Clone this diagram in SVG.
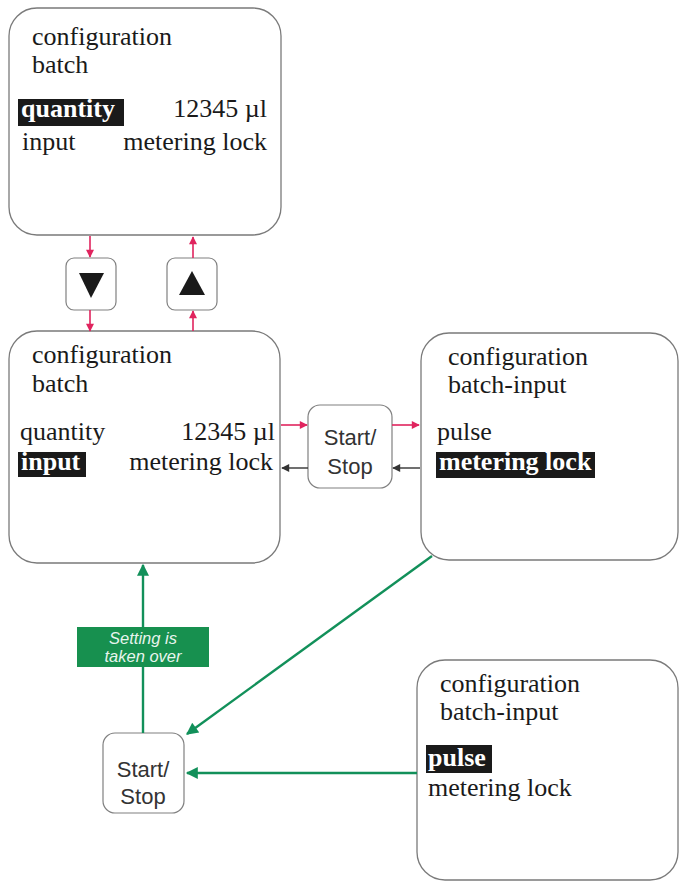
<svg xmlns="http://www.w3.org/2000/svg" width="679" height="884" viewBox="0 0 679 884">
<defs>
<style>
.box{fill:#fff;stroke:#7a7a7a;stroke-width:1.3}
.btn{fill:#fff;stroke:#808080;stroke-width:1.2}
.t{font-family:"Liberation Serif","Times New Roman",serif;font-size:26px;fill:#1a1a1a}
.hb{font-family:"Liberation Serif","Times New Roman",serif;font-size:26px;font-weight:bold;fill:#fff}
.hl{fill:#1a1a1a}
.s{font-family:"Liberation Sans",Arial,sans-serif;font-size:22px;fill:#333;text-anchor:middle}
.lab{font-family:"Liberation Sans",Arial,sans-serif;font-size:16.5px;font-style:italic;fill:#e8f5ee;text-anchor:middle}
.pk{stroke:#e0245e;stroke-width:1.6;fill:none}
.bk{stroke:#333;stroke-width:1.4;fill:none}
.gr{stroke:#12905a;stroke-width:2.4;fill:none}
</style>
<marker id="mp" viewBox="0 0 10 10" refX="9" refY="5" markerWidth="9" markerHeight="8" markerUnits="userSpaceOnUse" orient="auto"><path d="M0,0 L10,5 L0,10 z" fill="#e0245e"/></marker>
<marker id="mb" viewBox="0 0 10 10" refX="9" refY="5" markerWidth="9" markerHeight="8" markerUnits="userSpaceOnUse" orient="auto"><path d="M0,0 L10,5 L0,10 z" fill="#333"/></marker>
<marker id="mg" viewBox="0 0 10 10" refX="9" refY="5" markerWidth="15" markerHeight="12" markerUnits="userSpaceOnUse" orient="auto"><path d="M0,0 L10,5 L0,10 z" fill="#12905a"/></marker>
</defs>
<rect width="679" height="884" fill="#fff"/>

<g id="screen1">
<rect class="box" x="9" y="8" width="272" height="227" rx="28"/>
<text class="t" x="32" y="45">configuration</text>
<text class="t" x="32" y="73">batch</text>
<rect class="hl" x="18" y="99" width="106" height="27"/>
<text class="hb" x="21" y="117">quantity</text>
<text class="t" x="267" y="117" text-anchor="end">12345 µl</text>
<text class="t" x="22" y="150">input</text>
<text class="t" x="267" y="150" text-anchor="end">metering lock</text>
</g>

<g id="btn-down">
<rect class="btn" x="66" y="258" width="50" height="52" rx="8"/>
<path d="M79,273 L104,273 L91,298 z" fill="#1a1a1a"/>
</g>
<g id="btn-up">
<rect class="btn" x="167" y="258" width="50" height="52" rx="8"/>
<path d="M179,295 L205,295 L192,271 z" fill="#1a1a1a"/>
</g>

<g id="screen2">
<rect class="box" x="9" y="331" width="271" height="232" rx="28"/>
<text class="t" x="32" y="363">configuration</text>
<text class="t" x="32" y="392">batch</text>
<text class="t" x="20" y="440">quantity</text>
<text class="t" x="275" y="440" text-anchor="end">12345 µl</text>
<rect class="hl" x="18" y="452" width="68" height="25"/>
<text class="hb" x="21" y="470">input</text>
<text class="t" x="273" y="470" text-anchor="end">metering lock</text>
</g>

<g id="startstop1">
<rect class="btn" x="308" y="405" width="84" height="83" rx="12"/>
<text class="s" x="350" y="445">Start/</text>
<text class="s" x="350" y="474">Stop</text>
</g>

<g id="screen3">
<rect class="box" x="421" y="333" width="257" height="227" rx="28"/>
<text class="t" x="448" y="365">configuration</text>
<text class="t" x="448" y="393">batch-input</text>
<text class="t" x="437" y="440">pulse</text>
<rect class="hl" x="436" y="452" width="159" height="26"/>
<text class="hb" x="439" y="470">metering lock</text>
</g>

<g id="screen4">
<rect class="box" x="417" y="660" width="261" height="220" rx="28"/>
<text class="t" x="440" y="692">configuration</text>
<text class="t" x="440" y="720">batch-input</text>
<rect class="hl" x="426" y="745" width="66" height="28"/>
<text class="hb" x="428" y="766">pulse</text>
<text class="t" x="428" y="796">metering lock</text>
</g>

<g id="startstop2">
<rect class="btn" x="103" y="733" width="81" height="80" rx="12"/>
<text class="s" x="143" y="777">Start/</text>
<text class="s" x="143" y="804">Stop</text>
</g>

<g id="connectors">
<line class="pk" x1="90" y1="236" x2="90" y2="257" marker-end="url(#mp)"/>
<line class="pk" x1="90" y1="310" x2="90" y2="331" marker-end="url(#mp)"/>
<line class="pk" x1="193" y1="258" x2="193" y2="237" marker-end="url(#mp)"/>
<line class="pk" x1="193" y1="331" x2="193" y2="311" marker-end="url(#mp)"/>
<line class="pk" x1="281" y1="425" x2="307" y2="425" marker-end="url(#mp)"/>
<line class="pk" x1="392" y1="425" x2="419" y2="425" marker-end="url(#mp)"/>
<line class="bk" x1="308" y1="468" x2="282" y2="468" marker-end="url(#mb)"/>
<line class="bk" x1="420" y1="468" x2="393" y2="468" marker-end="url(#mb)"/>
<line class="gr" x1="143" y1="733" x2="143" y2="565" marker-end="url(#mg)"/>
<line class="gr" x1="432" y1="556" x2="187" y2="734" marker-end="url(#mg)"/>
<line class="gr" x1="417" y1="773" x2="187" y2="773" marker-end="url(#mg)"/>
<g id="label">
<rect x="77" y="627" width="132" height="40" fill="#17904f"/>
<text class="lab" x="143" y="644">Setting is</text>
<text class="lab" x="143" y="662">taken over</text>
</g>
</g>
</svg>
